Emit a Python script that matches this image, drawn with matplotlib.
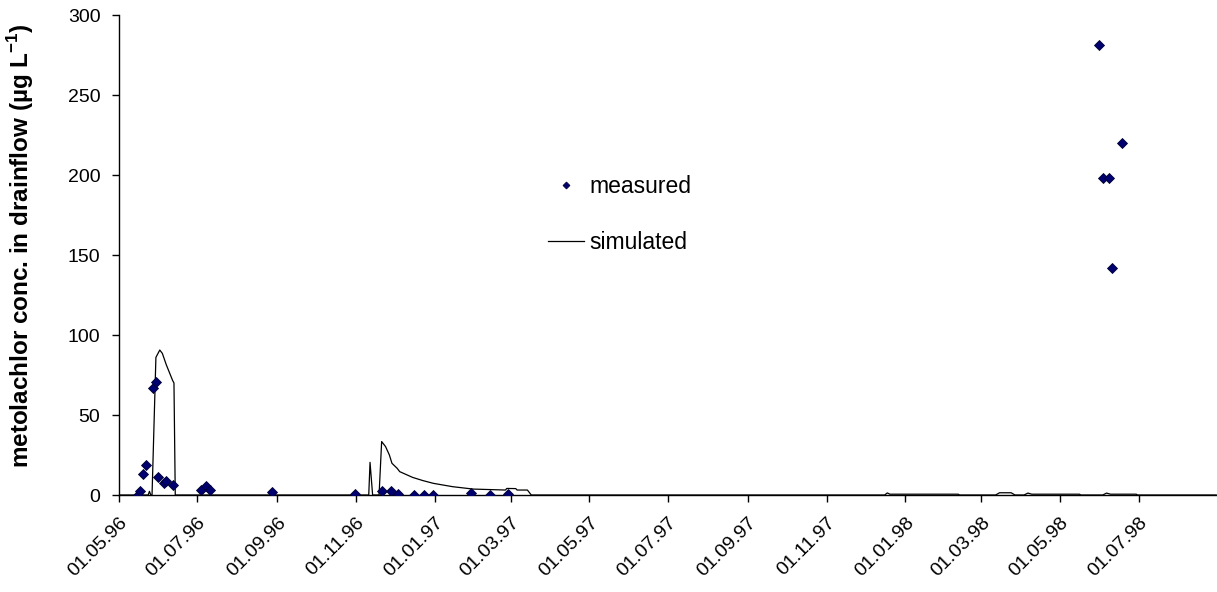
import matplotlib
matplotlib.use('Agg')
import matplotlib.pyplot as plt
import matplotlib.dates as mdates
from matplotlib.lines import Line2D
import pandas as pd

plt.rcParams['font.family'] = ['Liberation Sans', 'DejaVu Sans']
plt.rcParams['mathtext.fontset'] = 'custom'
plt.rcParams['mathtext.rm'] = 'Liberation Sans'
plt.rcParams['mathtext.bf'] = 'Liberation Sans:bold'

# ---------------- data ----------------
measured_dates = [
    '1996-05-16', '1996-05-18', '1996-05-20', '1996-05-22', '1996-05-28',
    '1996-05-30', '1996-06-01', '1996-06-05', '1996-06-07', '1996-06-12',
    '1996-07-04', '1996-07-08', '1996-07-11', '1996-08-28', '1996-10-31',
    '1996-11-21', '1996-11-28', '1996-12-04', '1996-12-16', '1996-12-24',
    '1996-12-31', '1997-01-29', '1997-02-13', '1997-02-27',
    '1998-05-31', '1998-06-03', '1998-06-08', '1998-06-10', '1998-06-18',
]
measured_values = [
    0.0, 2.5, 13.3, 19.0, 66.6,
    70.4, 11.0, 7.7, 8.6, 6.2,
    3.0, 5.6, 3.0, 2.1, 0.6,
    2.5, 2.5, 0.6, 0.0, 0.0,
    0.0, 1.5, 0.0, 0.6,
    281.3, 198.1, 198.1, 141.9, 220.2,
]

simulated_dates = [
    '1996-05-01', '1996-05-24', '1996-05-25', '1996-05-26', '1996-05-27',
    '1996-05-30', '1996-06-02', '1996-06-04', '1996-06-07', '1996-06-10',
    '1996-06-12', '1996-06-13', '1996-06-14',
    '1996-11-11', '1996-11-12', '1996-11-14', '1996-11-19', '1996-11-21',
    '1996-11-24', '1996-11-27', '1996-11-29', '1996-12-03', '1996-12-05',
    '1996-12-15', '1996-12-23', '1996-12-31', '1997-01-15', '1997-01-31',
    '1997-02-25', '1997-02-26', '1997-03-05', '1997-03-06', '1997-03-14',
    '1997-03-17',
    '1997-12-16', '1997-12-18', '1997-12-20', '1998-02-11', '1998-02-12',
    '1998-03-12', '1998-03-15', '1998-03-24', '1998-03-27',
    '1998-04-03', '1998-04-06', '1998-04-09', '1998-05-16', '1998-05-17',
    '1998-06-03', '1998-06-06', '1998-06-09', '1998-06-29', '1998-06-30',
    '1998-08-30',
]
simulated_values = [
    0.0, 0.0, 2.3, 0.0, 0.0,
    86.0, 90.6, 88.5, 81.5, 75.5,
    71.5, 70.0, 0.0,
    0.0, 20.4, 0.0, 0.0, 33.4,
    30.3, 25.0, 19.8, 16.7, 14.6,
    11.0, 9.0, 7.3, 5.2, 3.7,
    3.1, 4.1, 4.0, 3.1, 3.1,
    0.0,
    0.0, 1.3, 0.5, 0.5, 0.0,
    0.0, 1.4, 1.4, 0.0,
    0.0, 1.2, 0.5, 0.5, 0.0,
    0.0, 1.2, 0.5, 0.5, 0.0,
    0.0,
]

tick_dates = pd.date_range('1996-05-01', '1998-07-01', freq='2MS')
y_ticks = [0, 50, 100, 150, 200, 250, 300]

# ---------------- plot ----------------
fig = plt.figure(figsize=(12.17, 5.92), dpi=100)
ax = fig.add_axes([118.5 / 1217, 1 - 495 / 592, 1 - 118.5 / 1217, (495 - 15) / 592])

sim_x = pd.to_datetime(simulated_dates)
mea_x = pd.to_datetime(measured_dates)

ax.plot(sim_x, simulated_values, color='black', lw=0.9, zorder=2)
ax.plot(mea_x, measured_values, ls='none', marker='D', ms=4.6,
        mfc='#000070', mec='#000030', mew=0.6, zorder=3)

x0 = pd.Timestamp('1996-05-01')
ax.set_xlim(x0, x0 + pd.Timedelta(days=851.6))
ax.set_ylim(0, 300)
ax.set_yticks(y_ticks)
ax.set_xticks(tick_dates)
ax.xaxis.set_major_formatter(mdates.DateFormatter('%d.%m.%y'))

for s in ['top', 'right']:
    ax.spines[s].set_visible(False)
for s in ['left', 'bottom']:
    ax.spines[s].set_linewidth(1.0)
    ax.spines[s].set_color('black')

ax.tick_params(axis='both', direction='out', length=5, width=1.0,
               labelsize=14, colors='black')
ax.tick_params(axis='y', pad=8)
plt.setp(ax.get_xticklabels(), rotation=45, ha='right', va='top',
         rotation_mode='anchor')
ax.tick_params(axis='x', pad=9)

ax.set_ylabel(r'metolachlor conc. in drainflow (µg L$^{\mathbf{-1}}$)',
              fontsize=17.5, fontweight='bold')
ax.yaxis.set_label_coords((36 - 118.5) / 1098.5, 0.52)

handles = [
    Line2D([], [], ls='none', marker='D', ms=3.5, mfc='#000070',
           mec='#000030', mew=0.6),
    Line2D([], [], color='black', lw=0.9),
]
fig.legend(handles, ['measured', 'simulated'], loc='upper left',
           bbox_to_anchor=(548 / 1217, 1 - 175 / 592), frameon=False,
           fontsize=16.5, handlelength=1.55, handletextpad=0.25,
           labelspacing=1.42, borderpad=0, borderaxespad=0)

fig.savefig('out.png', dpi=100)
